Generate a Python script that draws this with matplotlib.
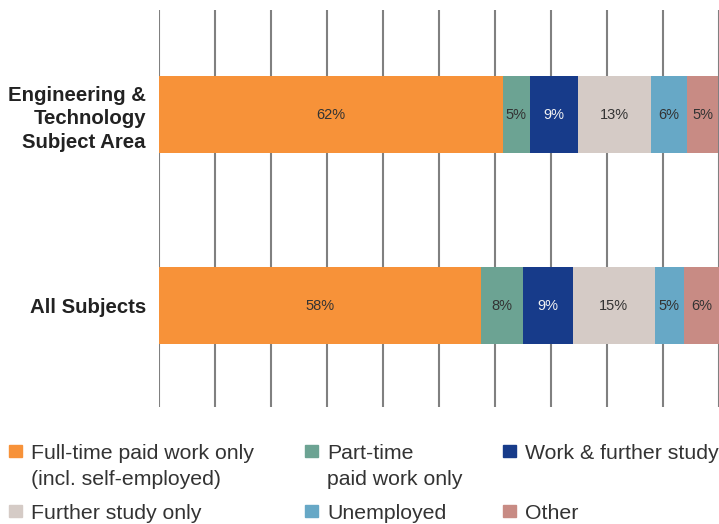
import matplotlib.pyplot as plt
from matplotlib.patches import Rectangle
import numpy as np

categories = ['Engineering &\nTechnology\nSubject Area', 'All Subjects']
series = ['Full-time paid work only\n(incl. self-employed)', 'Part-time\npaid work only',
          'Work & further study', 'Further study only', 'Unemployed', 'Other']
colors = ['#F79239', '#6CA393', '#173B8A', '#D5CBC6', '#67A8C6', '#C88B84']
# bar widths, labels as printed in the chart
values = [[61.4, 57.5], [4.8, 7.5], [8.6, 8.9], [13.0, 14.6], [6.4, 5.2], [5.7, 6.3]]
labels = [['62%', '58%'], ['5%', '8%'], ['9%', '9%'], ['13%', '15%'], ['6%', '5%'], ['5%', '6%']]
label_colors = ['#333333', '#333333', '#F2F2F2', '#333333', '#333333', '#333333']

W, H = 719, 524
fig = plt.figure(figsize=(W / 100, H / 100), dpi=100)
ax = fig.add_axes([159 / W, (H - 407) / H, 560 / W, 397 / H])

y = np.arange(len(categories))
left = np.zeros(len(categories))
for vals, labs, col, lc in zip(values, labels, colors, label_colors):
    bars = ax.barh(y, vals, left=left, height=0.40, color=col, zorder=2)
    ax.bar_label(bars, labels=labs, label_type='center', color=lc, fontsize=10.5,
                 family=['Liberation Sans Narrow', 'Liberation Sans'])
    left += np.array(vals)

ax.set_xlim(0, 100)
ax.set_ylim(1.531, -0.547)
ax.set_xticks(np.arange(0, 101, 10))
ax.xaxis.grid(True, color='#808080', lw=1.5, zorder=0)
ax.set_axisbelow(True)
ax.tick_params(axis='x', length=0, labelbottom=False)
ax.set_yticks(y)
ax.set_yticklabels(categories, fontsize=14.7, fontweight='bold', color='#222222',
                   family='Liberation Sans', linespacing=1.33)
ax.tick_params(axis='y', length=0, pad=9.4)
for s in ax.spines.values():
    s.set_visible(False)

# legend drawn by hand: 3 columns, 2 rows
col_x = [9, 305, 503]
row_base = [459, 519]
for i, (name, col) in enumerate(zip(series, colors)):
    cx = col_x[i % 3]
    by = row_base[i // 3]
    fig.patches.append(Rectangle((cx / W, 1 - (by - 2) / H), 13 / W, 12 / H,
                                 transform=fig.transFigure, color=col))
    for j, line in enumerate(name.split('\n')):
        fig.text((cx + 22) / W, 1 - (by + 26 * j) / H, line, fontsize=15.3,
                 family='Liberation Sans', color='#333333', va='baseline', ha='left')

fig.savefig('out.png', dpi=100)
